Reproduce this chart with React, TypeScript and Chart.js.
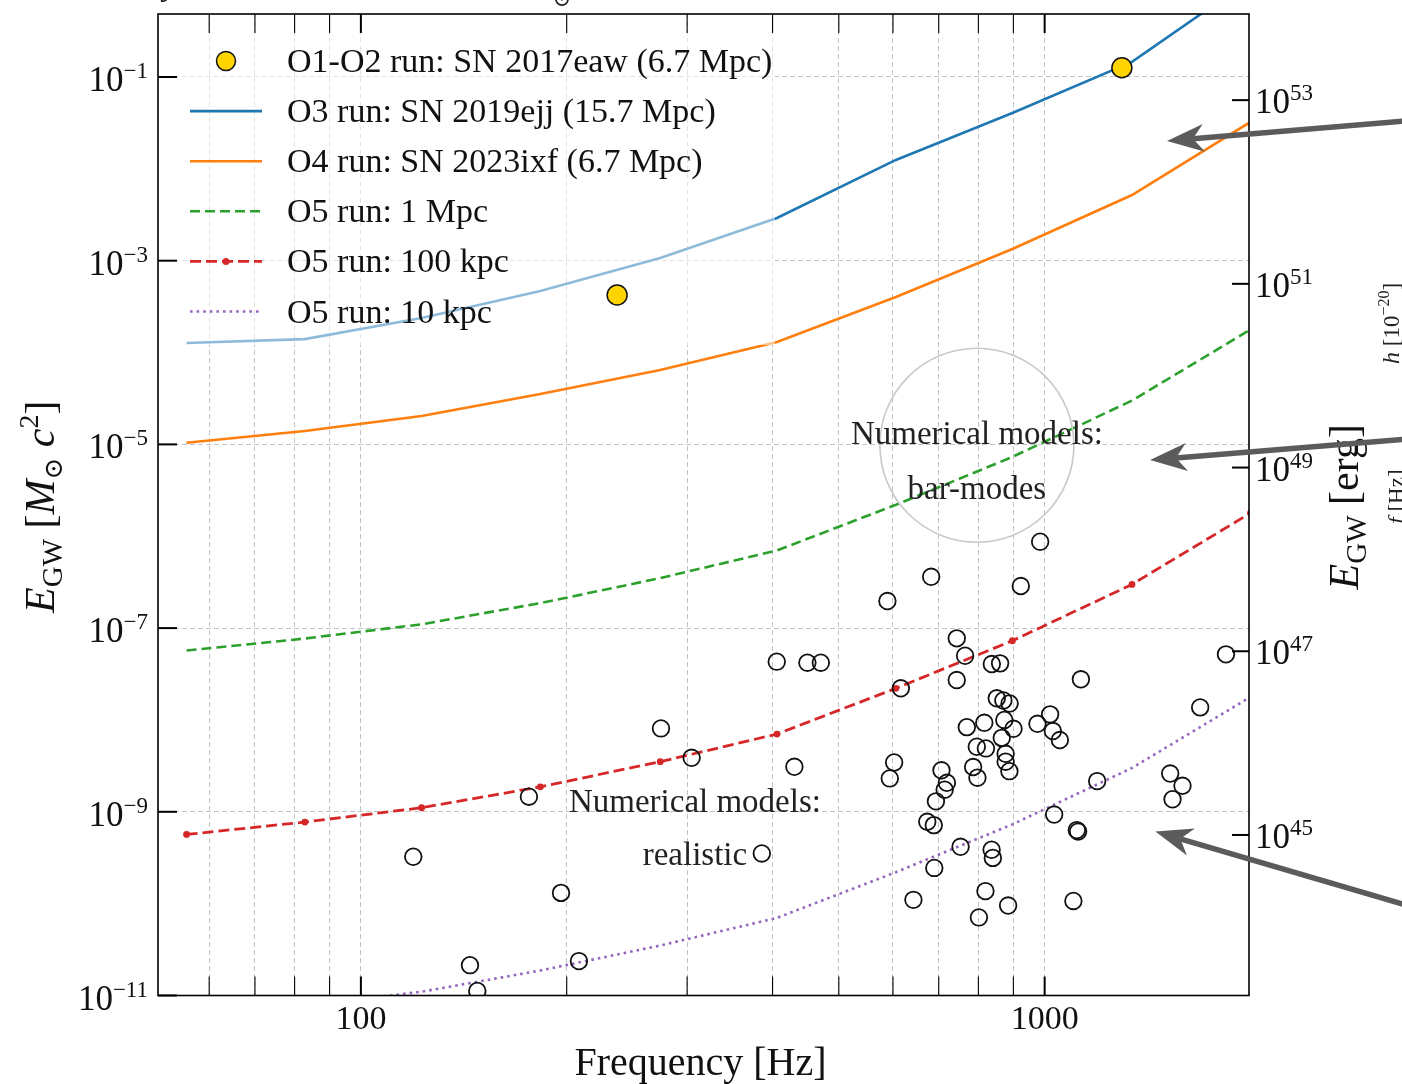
import React, { useEffect, useRef } from "react";
import { Chart, registerables } from "chart.js";

Chart.register(...registerables);

// ---------------- data ----------------
const curveFrequencies = [55.6, 82.8, 122.7, 183, 274, 406, 606, 897, 1342, 2000];
const o3Sn2019ejj = [1.27e-4, 1.4e-4, 2.38e-4, 4.68e-4, 1.07e-3, 2.92e-3, 1.25e-2, 4.06e-2, 0.146, 1.15];
const o4Sn2023ixf = [1.04e-5, 1.4e-5, 2.04e-5, 3.53e-5, 6.45e-5, 1.3e-4, 4.03e-4, 1.34e-3, 5.19e-3, 3.24e-2];
const o5At1Mpc = [5.7e-8, 7.7e-8, 1.1e-7, 1.87e-7, 3.5e-7, 7.0e-7, 2.2e-6, 7.3e-6, 3.0e-5, 1.78e-4];
const o5At100kpc = [5.67e-10, 7.73e-10, 1.107e-9, 1.87e-9, 3.51e-9, 7.02e-9, 2.21e-8, 7.28e-8, 2.99e-7, 1.79e-6];
const o5At10kpc = [5.7e-12, 7.7e-12, 1.1e-11, 1.87e-11, 3.5e-11, 7.0e-11, 2.2e-10, 7.3e-10, 3.0e-9, 1.78e-8];

const sn2017eawFrequency = [237, 1297];
const sn2017eawEnergy = [4.23e-4, 0.126];

const modelFrequency = [
  119.3, 144.4, 148.0, 176.1, 196.2, 208.4, 274.7, 304.6, 385.8, 405.7,
  430.5, 449.8, 470.6, 588.9, 682.4, 922.8, 985.0, 743.8, 765.0, 837.0,
  860.7, 743.8, 1129.8, 616.1, 851.1, 870.2, 888.6, 1018.6, 873.0, 816.1,
  769.4, 900.5, 976.1, 1028.0, 1052.5, 865.5, 795.7, 820.5, 876.9, 876.9,
  602.4, 706.5, 786.0, 888.1, 593.6, 719.5, 714.1, 693.4, 797.4, 1193.5,
  1032.5, 673.5, 688.4, 1114.4, 1119.3, 753.4, 836.4, 839.9, 689.6, 642.8,
  819.2, 884.2, 801.4, 1101.6, 1526.2, 1590.7, 1538.2, 1688.3, 1841.5,
];
const modelEnergy = [
  3.24e-10, 2.14e-11, 1.12e-11, 1.46e-9, 1.31e-10, 2.37e-11, 8.09e-9, 3.87e-9, 3.52e-10, 4.31e-8,
  3.09e-9, 4.2e-8, 4.2e-8, 1.97e-7, 3.62e-7, 2.87e-7, 8.71e-7, 7.73e-8, 5.0e-8, 4.06e-8,
  4.13e-8, 2.72e-8, 2.77e-8, 2.21e-8, 1.72e-8, 1.63e-8, 1.51e-8, 1.15e-8, 1.0e-8, 9.31e-9,
  8.35e-9, 8.01e-9, 9.08e-9, 7.57e-9, 6.04e-9, 6.38e-9, 5.11e-9, 4.9e-9, 4.28e-9, 3.51e-9,
  3.44e-9, 2.83e-9, 3.07e-9, 2.77e-9, 2.31e-9, 2.07e-9, 1.74e-9, 1.3e-9, 2.35e-9, 2.16e-9,
  9.33e-10, 7.78e-10, 7.16e-10, 6.32e-10, 6.09e-10, 4.16e-10, 3.86e-10, 3.15e-10, 2.45e-10, 1.1e-10,
  1.37e-10, 9.53e-11, 7.08e-11, 1.07e-10, 2.61e-9, 1.92e-9, 1.37e-9, 1.37e-8, 5.18e-8,
];

const legendLabels = [
  "O1-O2 run: SN 2017eaw (6.7 Mpc)",
  "O3 run: SN 2019ejj (15.7 Mpc)",
  "O4 run: SN 2023ixf (6.7 Mpc)",
  "O5 run: 1 Mpc",
  "O5 run: 100 kpc",
  "O5 run: 10 kpc",
];

const xTickValues = [60, 70, 80, 90, 100, 200, 300, 400, 500, 600, 700, 800, 900, 1000];
const xMajorTicks = [100, 1000];
const xTickLabels = ["100", "1000"];
const yLeftExponents = [-1, -3, -5, -7, -9, -11];
const yRightExponents = [53, 51, 49, 47, 45];

// annotation anchors (data coordinates)
const barModesCenter = { f: 796, e: 9.8e-6 };
const realisticAnchor = { f: 308, e: 1.0e-9 };
const arrowTips = [
  { f: 1510, e: 0.0201, dx: 250, dy: -21 },
  { f: 1426, e: 6.76e-6, dx: 270, dy: -22 },
  { f: 1452, e: 6.1e-10, dx: 262, dy: 77 },
];

const MSUN_C2_ERG = 1.787e54;
const X_MIN = 50.5;
const X_MAX = 1990;
const Y_MIN = 1e-11;
const Y_MAX = 0.485;

const COLORS = {
  blue: "#1f77b4",
  orange: "#ff7f0e",
  green: "#2ca02c",
  red: "#d62728",
  purple: "#9467bd",
  yellow: "#ffd400",
};

const SERIF = '"Liberation Serif", "DejaVu Serif", serif';

type Run = { t: string; size: number; italic?: boolean; dy?: number };

function fontOf(r: Run) {
  return `${r.italic ? "italic " : ""}${r.size}px ${SERIF}`;
}
function runsWidth(ctx: CanvasRenderingContext2D, runs: Run[]) {
  let w = 0;
  for (const r of runs) {
    ctx.font = fontOf(r);
    w += ctx.measureText(r.t).width;
  }
  return w;
}
function drawRuns(
  ctx: CanvasRenderingContext2D,
  runs: Run[],
  x: number,
  y: number,
  align: "left" | "right" | "center"
) {
  const w = runsWidth(ctx, runs);
  let cx = align === "left" ? x : align === "right" ? x - w : x - w / 2;
  ctx.textAlign = "left";
  ctx.textBaseline = "alphabetic";
  for (const r of runs) {
    ctx.font = fontOf(r);
    ctx.fillText(r.t, cx, y + (r.dy ?? 0));
    cx += ctx.measureText(r.t).width;
  }
}
function drawRotated(
  ctx: CanvasRenderingContext2D,
  runs: Run[],
  x: number,
  y: number,
  align: "left" | "center"
) {
  ctx.save();
  ctx.translate(x, y);
  ctx.rotate(-Math.PI / 2);
  drawRuns(ctx, runs, 0, 0, align);
  ctx.restore();
}
function drawArrow(ctx: CanvasRenderingContext2D, tipX: number, tipY: number, tailX: number, tailY: number) {
  const ang = Math.atan2(tailY - tipY, tailX - tipX);
  const ux = Math.cos(ang);
  const uy = Math.sin(ang);
  const px = -uy;
  const py = ux;
  const L = 37;
  const W = 14;
  const notch = 26;
  ctx.save();
  ctx.strokeStyle = "#5b5b5b";
  ctx.fillStyle = "#5b5b5b";
  ctx.lineWidth = 5.5;
  ctx.beginPath();
  ctx.moveTo(tailX, tailY);
  ctx.lineTo(tipX + ux * notch, tipY + uy * notch);
  ctx.stroke();
  ctx.beginPath();
  ctx.moveTo(tipX, tipY);
  ctx.lineTo(tipX + ux * L + px * W, tipY + uy * L + py * W);
  ctx.lineTo(tipX + ux * notch, tipY + uy * notch);
  ctx.lineTo(tipX + ux * L - px * W, tipY + uy * L - py * W);
  ctx.closePath();
  ctx.fill();
  ctx.restore();
}

const CIRCLES_INDEX = 0;

const decorPlugin = {
  id: "decor",
  beforeDatasetDraw(chart: any, args: any) {
    if (args.index !== CIRCLES_INDEX) return;
    const ctx: CanvasRenderingContext2D = chart.ctx;
    const a = chart.chartArea;
    ctx.save();
    ctx.fillStyle = "rgba(255,255,255,0.5)";
    ctx.fillRect(a.left + 12, a.top + 18, 605, 313);
    ctx.restore();
  },
  afterDraw(chart: any) {
    const ctx: CanvasRenderingContext2D = chart.ctx;
    const a = chart.chartArea;
    const xs = chart.scales.x;
    const ys = chart.scales.y;
    const y2 = chart.scales.y2;
    ctx.save();

    // frame
    ctx.strokeStyle = "#000";
    ctx.lineWidth = 1.6;
    ctx.strokeRect(a.left, a.top, a.right - a.left, a.bottom - a.top);

    // inward ticks
    ctx.strokeStyle = "#000";
    for (const v of xTickValues) {
      const px = xs.getPixelForValue(v);
      const major = xMajorTicks.includes(v);
      ctx.lineWidth = major ? 2 : 1.1;
      ctx.beginPath();
      ctx.moveTo(px, a.bottom);
      ctx.lineTo(px, a.bottom - 19);
      ctx.moveTo(px, a.top);
      ctx.lineTo(px, a.top + 19);
      ctx.stroke();
    }
    ctx.lineWidth = 2;
    for (const e of yLeftExponents) {
      const py = ys.getPixelForValue(Math.pow(10, e));
      ctx.beginPath();
      ctx.moveTo(a.left, py);
      ctx.lineTo(a.left + 19, py);
      ctx.stroke();
    }
    for (const e of yRightExponents) {
      const py = y2.getPixelForValue(Math.pow(10, e));
      ctx.beginPath();
      ctx.moveTo(a.right, py);
      ctx.lineTo(a.right - 17, py);
      ctx.stroke();
    }

    // tick labels
    ctx.fillStyle = "#111";
    xMajorTicks.forEach((v, i) => {
      const px = xs.getPixelForValue(v);
      drawRuns(ctx, [{ t: xTickLabels[i], size: 34 }], px, a.bottom + 33, "center");
    });
    for (const e of yLeftExponents) {
      const py = ys.getPixelForValue(Math.pow(10, e));
      drawRuns(
        ctx,
        [
          { t: "10", size: 35 },
          { t: "\u2212" + Math.abs(e), size: 23, dy: -13 },
        ],
        a.left - 10,
        py + 14,
        "right"
      );
    }
    for (const e of yRightExponents) {
      const py = y2.getPixelForValue(Math.pow(10, e));
      drawRuns(
        ctx,
        [
          { t: "10", size: 35 },
          { t: String(e), size: 23, dy: -13 },
        ],
        a.right + 6,
        py + 13,
        "left"
      );
    }

    // axis titles
    drawRuns(ctx, [{ t: "Frequency [Hz]", size: 40 }], (a.left + a.right) / 2 - 3, a.bottom + 79, "center");
    const midY = (a.top + a.bottom) / 2 + 2;
    drawRotated(
      ctx,
      [
        { t: "E", size: 42, italic: true },
        { t: "GW", size: 29, dy: 8 },
        { t: " [", size: 42 },
        { t: "M", size: 42, italic: true },
        { t: "\u2299", size: 26, dy: 8 },
        { t: " c", size: 42, italic: true },
        { t: "2", size: 28, dy: -16 },
        { t: "]", size: 42 },
      ],
      a.left - 104,
      midY,
      "center"
    );
    drawRotated(
      ctx,
      [
        { t: "E", size: 42, italic: true },
        { t: "GW", size: 29, dy: 8 },
        { t: " [erg]", size: 42 },
      ],
      a.right + 109,
      midY,
      "center"
    );

    // legend
    const lx0 = a.left + 32;
    const lx1 = a.left + 104;
    const lxm = (lx0 + lx1) / 2;
    const textX = a.left + 129;
    legendLabels.forEach((label, i) => {
      const base = a.top + 58 + i * 50.1;
      const hy = base - 11;
      ctx.save();
      if (i === 0) {
        ctx.beginPath();
        ctx.arc(lxm, hy, 9.5, 0, Math.PI * 2);
        ctx.fillStyle = COLORS.yellow;
        ctx.fill();
        ctx.lineWidth = 1.5;
        ctx.strokeStyle = "#111";
        ctx.stroke();
      } else {
        const styles = [
          null,
          { c: COLORS.blue, d: [] as number[], w: 2.6 },
          { c: COLORS.orange, d: [] as number[], w: 2.6 },
          { c: COLORS.green, d: [10, 5], w: 2.6 },
          { c: COLORS.red, d: [11, 5], w: 2.8 },
          { c: COLORS.purple, d: [2.6, 4], w: 2.6 },
        ];
        const s = styles[i]!;
        ctx.strokeStyle = s.c;
        ctx.lineWidth = s.w;
        ctx.setLineDash(s.d);
        ctx.beginPath();
        ctx.moveTo(lx0, hy);
        ctx.lineTo(lx1, hy);
        ctx.stroke();
        if (i === 4) {
          ctx.setLineDash([]);
          ctx.fillStyle = COLORS.red;
          ctx.beginPath();
          ctx.arc(lxm, hy, 3.5, 0, Math.PI * 2);
          ctx.fill();
        }
      }
      ctx.restore();
      ctx.fillStyle = "#111";
      drawRuns(ctx, [{ t: label, size: 34 }], textX, base, "left");
    });

    // annotations
    const cx = xs.getPixelForValue(barModesCenter.f);
    const cy = ys.getPixelForValue(barModesCenter.e);
    ctx.beginPath();
    ctx.arc(cx, cy, 97, 0, Math.PI * 2);
    ctx.strokeStyle = "#c8c8c8";
    ctx.lineWidth = 1.6;
    ctx.stroke();
    ctx.fillStyle = "#222";
    drawRuns(ctx, [{ t: "Numerical models:", size: 33 }], cx, cy - 1.5, "center");
    drawRuns(ctx, [{ t: "bar-modes", size: 33 }], cx, cy + 53.5, "center");
    const rx = xs.getPixelForValue(realisticAnchor.f);
    const ry = ys.getPixelForValue(realisticAnchor.e);
    drawRuns(ctx, [{ t: "Numerical models:", size: 33 }], rx, ry, "center");
    drawRuns(ctx, [{ t: "realistic", size: 33 }], rx, ry + 53, "center");

    // cropped labels of neighbouring panels (only edges visible in the reference)
    ctx.fillStyle = "#222";
    drawRotated(
      ctx,
      [
        { t: "h", size: 24, italic: true },
        { t: " [10", size: 23 },
        { t: "\u221220", size: 16, dy: -10 },
        { t: "]", size: 23 },
      ],
      1399,
      364,
      "left"
    );
    drawRotated(
      ctx,
      [
        { t: "f", size: 24, italic: true },
        { t: " [Hz]", size: 23 },
      ],
      1404,
      524,
      "left"
    );
    ctx.font = `italic 34px ${SERIF}`;
    ctx.textAlign = "center";
    ctx.textBaseline = "alphabetic";
    ctx.fillText("y", 171, -5);
    ctx.font = `22px ${SERIF}`;
    ctx.textBaseline = "middle";
    ctx.fillText("\u2299", 562, 0);

    // arrows
    for (const t of arrowTips) {
      const tx = xs.getPixelForValue(t.f);
      const ty = ys.getPixelForValue(t.e);
      drawArrow(ctx, tx, ty, tx + t.dx, ty + t.dy);
    }

    ctx.restore();
  },
};

function pts(xsArr: number[], ysArr: number[]) {
  return xsArr.map((x, i) => ({ x, y: ysArr[i] }));
}

export default function App() {
  const ref = useRef<HTMLCanvasElement>(null);

  useEffect(() => {
    const canvas = ref.current;
    if (!canvas) return;
    document.body.style.margin = "0";

    const lineDs = (label: string, values: number[], color: string, dash: number[], width: number, extra: any = {}) => ({
      label,
      data: pts(curveFrequencies, values),
      showLine: true,
      borderColor: color,
      backgroundColor: color,
      borderWidth: width,
      borderDash: dash,
      pointRadius: 0,
      tension: 0,
      clip: 0,
      order: 10,
      ...extra,
    });

    const grid = { color: "#c4c4c4", lineWidth: 1, drawTicks: false };
    const border = { display: false, dash: [5, 3] };

    const chart = new Chart(canvas, {
      type: "scatter",
      data: {
        datasets: [
          {
            label: "Numerical models",
            data: pts(modelFrequency, modelEnergy),
            pointRadius: 8.3,
            pointBorderWidth: 1.8,
            pointBorderColor: "#111",
            pointBackgroundColor: "rgba(255,255,255,0)",
            borderColor: "#111",
            backgroundColor: "rgba(255,255,255,0)",
            clip: 0,
            order: 2,
          },
          {
            label: legendLabels[0],
            data: pts(sn2017eawFrequency, sn2017eawEnergy),
            pointRadius: 10,
            pointBorderWidth: 1.5,
            pointBorderColor: "#111",
            pointBackgroundColor: COLORS.yellow,
            borderColor: "#111",
            backgroundColor: COLORS.yellow,
            clip: 0,
            order: 1,
          },
          lineDs(legendLabels[1], o3Sn2019ejj, COLORS.blue, [], 2.6),
          lineDs(legendLabels[2], o4Sn2023ixf, COLORS.orange, [], 2.6),
          lineDs(legendLabels[3], o5At1Mpc, COLORS.green, [10, 5], 2.6),
          lineDs(legendLabels[4], o5At100kpc, COLORS.red, [11, 5], 2.8, {
            pointRadius: 3.4,
            pointBorderWidth: 0,
            pointBackgroundColor: COLORS.red,
          }),
          lineDs(legendLabels[5], o5At10kpc, COLORS.purple, [2.6, 4], 2.6),
        ],
      },
      options: {
        responsive: false,
        maintainAspectRatio: false,
        devicePixelRatio: 1,
        animation: false,
        events: [],
        layout: { padding: { left: 158, right: 153, top: 14, bottom: 88.5 } },
        plugins: { legend: { display: false }, tooltip: { enabled: false } },
        scales: {
          x: {
            type: "logarithmic",
            position: "bottom",
            min: X_MIN,
            max: X_MAX,
            afterBuildTicks: (s: any) => {
              s.ticks = xTickValues.map((v) => ({ value: v, major: xMajorTicks.includes(v) }));
            },
            ticks: { display: false },
            grid,
            border,
          },
          y: {
            type: "logarithmic",
            position: "left",
            min: Y_MIN,
            max: Y_MAX,
            afterBuildTicks: (s: any) => {
              s.ticks = yLeftExponents.map((e) => ({ value: Math.pow(10, e) }));
            },
            ticks: { display: false },
            grid,
            border,
          },
          y2: {
            type: "logarithmic",
            position: "right",
            min: Y_MIN * MSUN_C2_ERG,
            max: Y_MAX * MSUN_C2_ERG,
            ticks: { display: false },
            grid: { display: false, drawTicks: false },
            border: { display: false },
          },
        },
      } as any,
      plugins: [decorPlugin as any],
    });

    return () => chart.destroy();
  }, []);

  return (
    <div style={{ position: "absolute", left: 0, top: 0, width: 1402, height: 1084, background: "#fff" }}>
      <canvas ref={ref} width={1402} height={1084} style={{ display: "block", width: 1402, height: 1084 }} />
    </div>
  );
}
